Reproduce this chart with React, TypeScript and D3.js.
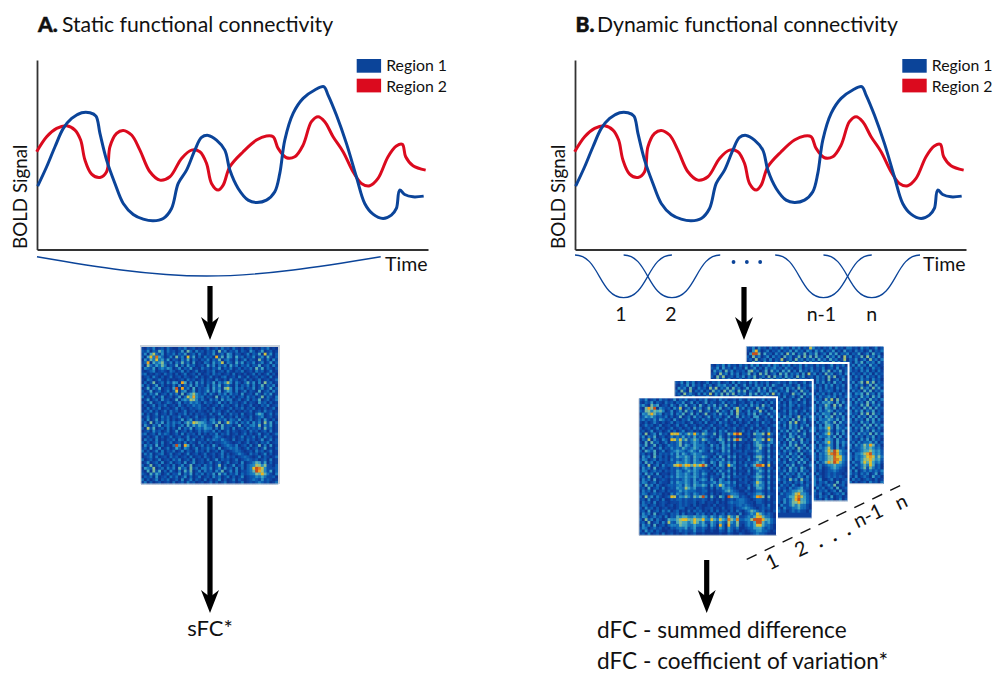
import React, { useEffect, useRef } from 'react';
import * as d3 from 'd3';

// Traces (time and signal in arbitrary units)
const region1Time = [2, 29, 54, 79, 104, 134, 159, 177, 189, 209, 234, 259, 289, 319, 349, 379, 404, 424, 449, 474, 494, 514, 539, 564, 579, 604, 634, 659, 689, 714, 729, 744, 769, 799, 834, 861, 874, 899, 929, 959, 984, 1009, 1039, 1064, 1079, 1089, 1104, 1129, 1161];
const region1Signal = [190, 248, 308, 363, 393, 410, 410, 400, 348, 268, 198, 138, 105, 91, 86, 93, 123, 198, 238, 298, 336, 342, 328, 298, 238, 183, 148, 141, 148, 173, 228, 328, 408, 453, 478, 488, 463, 403, 318, 218, 138, 106, 93, 103, 123, 178, 165, 158, 160];
const region2Time = [-1, 29, 59, 89, 114, 131, 144, 164, 189, 209, 219, 239, 259, 284, 309, 339, 369, 399, 434, 464, 489, 509, 524, 544, 559, 579, 619, 659, 689, 709, 724, 749, 774, 799, 824, 844, 864, 889, 919, 949, 974, 999, 1024, 1054, 1079, 1097, 1107, 1129, 1167];
const region2Signal = [293, 338, 363, 371, 358, 328, 268, 226, 216, 233, 308, 348, 357, 343, 298, 233, 208, 218, 273, 298, 293, 258, 198, 178, 193, 248, 293, 328, 340, 338, 303, 275, 278, 313, 383, 398, 383, 338, 293, 233, 198, 191, 213, 278, 310, 315, 278, 251, 238];

const legendLabels = ['Region 1', 'Region 2'];

// Sliding windows of panel B: start, centre, end
const slidingWindows = [
  [0, 146, 291],
  [146, 291, 436],
  [601, 746, 891],
  [746, 891, 1036],
];
const staticWindow = [0, 509, 1032];
const windowLabels = ['1', '2', 'n-1', 'n'];
const windowLabelTimes = [138, 288, 740, 891];

// Connectivity matrices, one digit per cell (0 low to 9 high)
const matrixStatic = [
  '102130120310021301201013012031203102013010213010',
  '213021430312013042031202130413021302104201301201',
  '130342130213021301203102130120430210130213041302',
  '203425320130312041302031204130430412021301203102',
  '031324231402102130210213021302310301302103102031',
  '125032342130213120301032031240320413021301201302',
  '204213243021302031201204130213041302130213012031',
  '032130232430130213010312021302130120213041302102',
  '101230121032013020130102130120310213012031201301',
  '230102103120201301203012031201203010201302013020',
  '012031020130120210130201301023012031030120210301',
  '103201310201012031201302103102041201302013012013',
  '020130120314204302031302130213530310241302031201',
  '302013020103030213031203031302310302130301302130',
  '013021301204504120302123031204530312021301201302',
  '201301201302402301302124031302430301302103012031',
  '120213012031203023432130310213031203012031021301',
  '301020130120130243532302103021302012031201302103',
  '013012031201302324431310312031330120130213012013',
  '201301201320130213232031201302031201302103120201',
  '020130213012031021323102012031201302013010213012',
  '103021301201302102123120130120130213021301020130',
  '021302013031201301202102031201302010213012031201',
  '302013012031021302021210301302031203012034301302',
  '013012031302130120130120120130120302103012301201',
  '203013021302013023021230330213032130213012031020',
  '120302130313120232444431231302531302130312031302',
  '031021302313012031324342203031220130213313021301',
  '204130120302030213023243302031203012031212031201',
  '012031201301301202013132130201302101203120120301',
  '230120313201203021203020213021301201302013012013',
  '102013020130120130120301023210102013021302031201',
  '031203010213032031301203132132103012031201301302',
  '202013030130120302103120201123210120130120213012',
  '031203020103530530201302031012321301203013020301',
  '120301301301320320130213120301232310130120130102',
  '302013030213013021031203012031012321012031201301',
  '031301230130120130120130120130201232103120130201',
  '012303012031201203012031020130312012321013021013',
  '301201301203130120301203013021201301232120120301',
  '013012030130120301301201301201301203012343130201',
  '201301201203012013012031201302013012023343231102',
  '032130120313031203120331301203120302023574321112',
  '103031302031020313013031202130130301123464321302',
  '210313201302130213021302130313021302123343432103',
  '021203012031201302013012031201302013012232321120',
  '302013021301203013021030201302013021012321312101',
  '130201201203012031201201302013012013012123212013',
];

const matrixWindow1 = [
  '213012031201302130120213012031201203103120130212',
  '102130210312021301302013021013021301201302102031',
  '231032301203102130120310213021302102130312031201',
  '103435032120213012031201302130120331302103120130',
  '213323343013012031201301201302103032013021302013',
  '032343230213021301302013012031203031203130210312',
  '123232121302013012031201302120130130312033012031',
  '231213143120310213012031201301302013021303102103',
  '102013102013021201301203012031201302013012031201',
  '013120130120130130120120130120310120130213012013',
  '201201302013012012031301203012021301201301201301',
  '120130120130201301201023012031301201302013021302',
  '203012031205342123242132113021032585012032230421',
  '130213012013121312131221021031020201102012210210',
  '021302103205323231232132110232031484120132230431',
  '103031201302123121232120211023020201101023210231',
  '213013020132123132132221031203130302012023321302',
  '030120130213121321232121120213120201012012310201',
  '203213013012232212321321031103130112021123210302',
  '120103021213131321232211110212120201120012210201',
  '031203120202132232132232102031031302012023320302',
  '132012021203121232132121021213020201103012310211',
  '203120210212132232132231032032131302021123210302',
  '120301203122344344343453102032043201130235540401',
  '031203012102121232132211020212020302012023210210',
  '132012120212132123232121102031130201103012320302',
  '203120301102132232132132010213020302012013210201',
  '120301120213132232232121021103130211120123320302',
  '031203012102121232131232031032020102021013210201',
  '132012021103132232132121123132231301120124320302',
  '203120210122122132132232031243121202012023220201',
  '120301203012132243231121020213232101103013320302',
  '031203012021123232221122010112343210021012210201',
  '132012120103132132132121020102123321102123320211',
  '203120210125312232132352031032054321210124430301',
  '120301203002122121121121020102012123321012210201',
  '031203012101112121120120110201023223321102210102',
  '132012012012012121020100102011012123232101120301',
  '203120201201012201102101120102012012343210121201',
  '120301203130120102021201020201102021023432120102',
  '031203012102120201102120102012021103012324321210',
  '132012120302132332232232132132143231123234432210',
  '203120210143233443343342243243254342233456543321',
  '120301203152133332343231132132143231123235532321',
  '031203012023223332232232032052052231023234432210',
  '132012120102122231231121021032032120012233321210',
  '203120210011012121131120010021032010101223322101',
  '120301203012010120120010000010021002100123221000',
];

// The stacked matrices behind only show their top rows and right columns
const matrixWindow2 = [
  '213031302013021301203031203130213012312031201302',
  '102130312031201323120301302031203032103120130213',
  '031203103120313021303120130213031301230312031201',
  '203103021302031203132031302103120313021301203120',
  '120312103031302130313021203130213031302103120313',
  '013021301203012031201302013012031201203012013021',
  '2130120130201', '1302031201302', '0213032031201', '1302130120213',
  '2013031301302', '0312031202031', '1303120130213', '2031203031302',
  '0312031301201', '1203031202130', '0312031203012', '2031302130203',
  '1302031201301', '0213032031201', '3120313013021', '1302031203120',
  '0213031301302', '2130312032031', '1203120130213', '0312031203012',
  '2031302130201', '1302031203120', '0213012031302', '3120313012013',
  '1302031203201', '0213031203120', '2130312031302', '1203120132031',
  '0312031203120', '1203120213021', '1031203102130', '0312031234120',
  '1203123344210', '1031223453320', '1211233454321', '0213123453321',
  '1203123343321', '2031123232210', '1203112232210', '0312012121102',
];
const matrixWindow3 = [
  '102130312031203130213032031302130312031201302130',
  '213031203120301302031231203120130213021301203012',
  '031203130212033120130312031302031203120313021302',
  '120312031302130203130120313021203031302031201203',
  '203130120313021301203031203120313012031203130120',
  '013021302130120313021302130313021203031203012031',
  '2031302031201', '1302031302130', '0313031203120', '1203123202031',
  '2031302031302', '1303123130213', '0312031303120', '2031323203031',
  '1302132031302', '0313032130213', '1303123202120', '2031322031302',
  '0313032302130', '1303223213031', '2031232130312', '1203033203120',
  '0313234203213', '1302123102130', '2031234203031', '1303223130302',
  '0312033203120', '2031234203132', '1303123203031', '0313234203120',
  '2031234354322', '1303234565321', '0313234465532', '1303234466532',
  '2031234354321', '1303123343321', '0313012343210', '1302012232110',
  '2031012121101', '1302012121210', '0313001201012', '1302120103021',
  '0312012130120', '2031201203012', '1302120120301', '0213012012130',
  '1203120301201', '0312031201302',
];
const matrixWindow4 = [
  '213031203120312031302153120213031203312031201302',
  '103520130213021303120320313021302031203120130213',
  '035530312031203130213021301203130213021301203120',
  '203120130312031201303130312031203031302130312031',
  '120301203021301203120212031203120130213012031203',
  '013120312031203130213031203120313021203130212031',
  '2130312031201', '1303130203120', '0312031302031', '2031203130312',
  '1303130312031', '0312031203120', '2130230313021', '1303120130312',
  '0312031203130', '2031203130213', '1303230312031', '0312031203130',
  '2130312031203', '1303120313021', '0312031302130', '2031203130312',
  '1303130213021', '0312031303120', '2130312031302', '1303120313031',
  '0312031203120', '2031203130313', '1303130312031', '0312031203120',
  '2130312130313', '1303120213021', '0312031303120', '2130312231302',
  '1303123243120', '0312234343231', '2031234454342', '1303345674342',
  '0313234565353', '1303234454342', '2031134343231', '1203123243120',
  '2130123132120', '1303012121213', '0312021201302', '1203012103120',
  '2031201210201', '1302012031203',
];
const stackMatrices = [matrixWindow4, matrixWindow3, matrixWindow2, matrixWindow1];

const bandsStatic = [0.3, 0.5, 0.7, 0.9, 0.9, 0.8, 0.7, 0.6, 0.3, 0.2, 0.3, 0.2, 1, 0.7, 1, 0.7, 0.8, 0.8, 0.7, 0.5, 0.3, 0.2, 0.2, 0.3, 0.3, 0.6, 1, 0.9, 0.8, 0.4, 0.3, 0.3, 0.4, 0.3, 0.8, 0.6, 0.3, 0.3, 0.2, 0.4, 0.6, 1, 1.1, 1, 0.8, 0.6, 0.4, 0.3];
const bandsWindow = [0.4, 0.5, 0.9, 1, 1, 0.9, 0.7, 0.4, 0.3, 0.2, 0.3, 0.4, 1.1, 0.8, 1.1, 0.8, 0.8, 0.9, 0.8, 0.8, 0.9, 0.8, 0.8, 1, 0.8, 0.7, 0.7, 0.8, 0.7, 0.7, 0.9, 0.7, 0.5, 0.5, 1.1, 0.4, 0.3, 0.3, 0.4, 0.6, 0.8, 0.9, 1, 0.9, 0.8, 0.7, 0.5, 0.3];

const colorStops = [0, 1, 2, 3, 4, 5, 6, 7, 8, 9];
const colorValues = ['#093690', '#0a429f', '#0c52ab', '#1168b6', '#2085c2', '#3fa6c4', '#8cbf91', '#e2c22a', '#efa31d', '#c8501e'];

const FONT = 'Lato, "Open Sans", sans-serif';
const BLUE = '#0b4499';
const RED = '#db0a1e';
const CELLS = d3.range(48);

const App = () => {
  const svgRef = useRef<SVGSVGElement>(null);

  useEffect(() => {
    if (!svgRef.current) return;
    const svg = d3.select(svgRef.current);
    svg.selectAll('*').remove();

    const heatColor = d3.scaleLinear<string>().domain(colorStops).range(colorValues).clamp(true);
    const matrixBand = d3.scaleBand<number>().domain(CELLS).range([0, 137]);

    svg.append('defs').append('filter').attr('id', 'soft')
      .attr('x', 0).attr('y', 0).attr('width', 1).attr('height', 1)
      .append('feGaussianBlur').attr('stdDeviation', 0.38);

    const label = (x: number, y: number, text: string, size: number, weight = 400, anchor = 'start', rotate = 0) =>
      svg.append('text')
        .attr('transform', `translate(${x},${y}) rotate(${rotate})`)
        .attr('font-family', FONT)
        .attr('font-size', size)
        .attr('font-weight', weight)
        .attr('text-anchor', anchor)
        .attr('fill', '#111')
        .text(text);

    const drawPanel = (left: number, legendX: number) => {
      const x = d3.scaleLinear().domain([0, 1174]).range([left, left + 391]);
      const y = d3.scaleLinear().domain([0, 568]).range([249.5, 60]);
      const g = svg.append('g');

      g.append('g').attr('transform', 'translate(0,249.5)')
        .call(d3.axisBottom(x).tickValues([]).tickSizeOuter(0))
        .select('.domain').attr('stroke', '#333').attr('stroke-width', 1.8);
      g.append('g').attr('transform', `translate(${left},0)`)
        .call(d3.axisLeft(y).tickValues([]).tickSizeOuter(0))
        .select('.domain').attr('stroke', '#333').attr('stroke-width', 1.8);

      const trace = d3.line<[number, number]>()
        .x(d => x(d[0]))
        .y(d => y(d[1]))
        .curve(d3.curveCatmullRom.alpha(0.5));

      g.append('path')
        .attr('d', trace(d3.zip(region2Time, region2Signal) as [number, number][]))
        .attr('fill', 'none').attr('stroke', RED).attr('stroke-width', 3);
      g.append('path')
        .attr('d', trace(d3.zip(region1Time, region1Signal) as [number, number][]))
        .attr('fill', 'none').attr('stroke', BLUE).attr('stroke-width', 3);

      legendLabels.forEach((name, i) => {
        g.append('rect')
          .attr('x', legendX).attr('y', 59 + i * 19.7)
          .attr('width', 24.4).attr('height', 13.7)
          .attr('fill', i === 0 ? BLUE : RED);
        label(legendX + 29.5, 71 + i * 20.5, name, 15.8);
      });

      label(left - 10, 249, 'BOLD Signal', 18.8, 400, 'start', -90);
      label(left + 348, 270.5, 'Time', 19.5);
      return x;
    };

    const drawMatrix = (rows: string[], bands: number[], left: number, top: number, frame: string) => {
      const g = svg.append('g').attr('transform', `translate(${left},${top})`);
      const cells = g.append('g').attr('filter', 'url(#soft)');
      cells.append('rect').attr('width', 137).attr('height', 137).attr('fill', colorValues[1]);
      rows.forEach((row, r) => {
        const full = row.padStart(48, '.');
        CELLS.forEach(c => {
          const v = full.charAt(c);
          if (v === '.' || v === '') return;
          cells.append('rect')
            .attr('x', matrixBand(c)!)
            .attr('y', matrixBand(r)!)
            .attr('width', matrixBand.bandwidth() + 0.3)
            .attr('height', matrixBand.bandwidth() + 0.3)
            .attr('fill', heatColor(+v * (1 + bands[r] * bands[c])));
        });
      });
      g.append('path')
        .attr('d', 'M0,0V137H137')
        .attr('fill', 'none').attr('stroke', '#bcc7d4').attr('stroke-width', 1);
      g.append('path')
        .attr('d', 'M-1,-1H138V137')
        .attr('fill', 'none').attr('stroke', frame).attr('stroke-width', 2);
    };

    const arrow = (cx: number, y0: number, y1: number) => {
      svg.append('rect')
        .attr('x', cx - 2.6).attr('y', y0)
        .attr('width', 5.2).attr('height', y1 - y0 - 10)
        .attr('fill', '#000');
      svg.append('path')
        .attr('d', `M${cx - 9},${y1 - 23}L${cx},${y1 - 16}L${cx + 9},${y1 - 23}L${cx},${y1}Z`)
        .attr('fill', '#000');
    };

    // Panel A
    const xA = drawPanel(37, 356.7);
    label(38, 31.5, 'A.', 21, 900).attr('stroke', '#111').attr('stroke-width', 0.5);
    label(62, 31.5, 'Static functional connectivity', 21.2);

    const arcDepth = d3.scaleLinear().domain([0, 1]).range([256.7, 276]);
    const arc = d3.line<number>()
      .x(d => xA(d))
      .y((_, i) => arcDepth(i === 1 ? 1 : 0))
      .curve(d3.curveNatural);
    svg.append('path').attr('d', arc(staticWindow))
      .attr('fill', 'none').attr('stroke', BLUE).attr('stroke-width', 1.4);

    arrow(210, 286, 340);
    drawMatrix(matrixStatic, bandsStatic, 141, 347, '#c9d1da');
    arrow(210, 496, 613);
    label(210, 636, 'sFC*', 22, 400, 'middle');

    // Panel B
    const xB = drawPanel(575, 902.3);
    label(575.5, 31.5, 'B.', 21, 900).attr('stroke', '#111').attr('stroke-width', 0.5);
    label(597, 31.5, 'Dynamic functional connectivity', 21.2);

    const windowDepth = d3.scaleLinear().domain([0, 1]).range([255, 297.7]);
    const bump = d3.line<number>()
      .x(d => xB(d))
      .y((_, i) => windowDepth(i === 1 ? 1 : 0))
      .curve(d3.curveBumpX);
    slidingWindows.forEach(w => {
      svg.append('path').attr('d', bump(w))
        .attr('fill', 'none').attr('stroke', BLUE).attr('stroke-width', 1.3);
    });
    [476, 516, 556].forEach(t => {
      svg.append('circle').attr('cx', xB(t)).attr('cy', 262).attr('r', 1.9).attr('fill', BLUE);
    });
    windowLabels.forEach((name, i) => {
      label(xB(windowLabelTimes[i]), 321, name, 19.5, 400, 'middle');
    });

    arrow(744, 287, 340);

    // Stack of window matrices, back to front
    const stackX = d3.scalePoint<number>().domain([0, 1, 2, 3]).range([746.3, 639]);
    const stackY = d3.scalePoint<number>().domain([0, 1, 2, 3]).range([346.7, 398.3]);
    stackMatrices.forEach((rows, i) => {
      drawMatrix(rows, bandsWindow, stackX(i)!, stackY(i)!, i === 0 ? 'none' : '#fff');
    });

    // Time direction under the stack
    svg.append('line')
      .attr('x1', 746.7).attr('y1', 559.3).attr('x2', 905).attr('y2', 483.3)
      .attr('stroke', '#111').attr('stroke-width', 1.4)
      .attr('stroke-dasharray', '11 8.9');
    label(775, 568, '1', 20, 400, 'middle', -25.7);
    label(804, 555, '2', 20, 400, 'middle', -25.7);
    label(822, 547, '.', 20, 700, 'middle', -25.7);
    label(836, 541, '.', 20, 700, 'middle', -25.7);
    label(850, 535, '.', 20, 700, 'middle', -25.7);
    label(871, 522, 'n-1', 20, 400, 'middle', -25.7);
    label(904, 508, 'n', 20, 400, 'middle', -25.7);

    arrow(706.7, 560, 613);
    label(597, 638, 'dFC - summed difference', 22.6);
    label(597, 669, 'dFC - coefficient of variation*', 22.6);
  }, []);

  return (
    <svg
      ref={svgRef}
      width={995}
      height={675}
      style={{ position: 'absolute', left: 0, top: 0, background: '#fff' }}
    />
  );
};

export default App;
